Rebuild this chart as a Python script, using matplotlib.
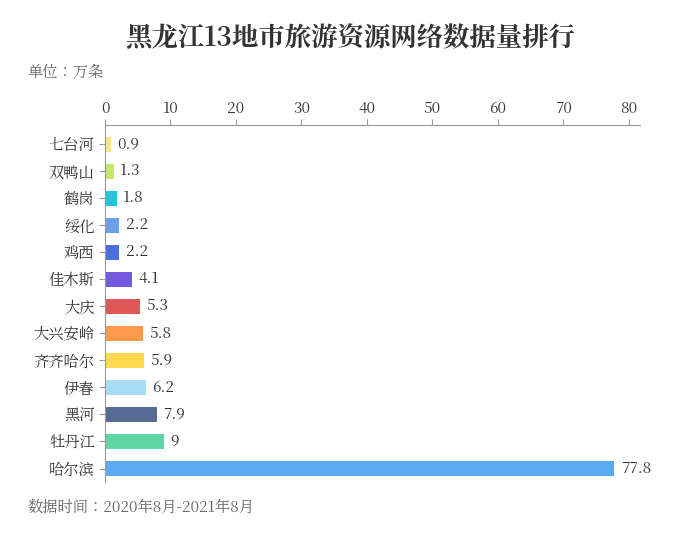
import matplotlib
matplotlib.use("Agg")
import matplotlib.pyplot as plt
from matplotlib import font_manager as fm

fam = None
for p in fm.findSystemFonts():
    if "CJK" in p or "cjk" in p.lower():
        try:
            fm.fontManager.addfont(p)
            name = fm.FontProperties(fname=p).get_name()
            if fam is None or "SC" in name:
                fam = name
        except Exception:
            pass
plt.rcParams["font.family"] = [fam or "Noto Sans CJK SC", "Noto Sans CJK SC", "Noto Sans CJK JP", "DejaVu Sans"]

cities = ["七台河", "双鸭山", "鹤岗", "绥化", "鸡西", "佳木斯", "大庆", "大兴安岭", "齐齐哈尔", "伊春", "黑河", "牡丹江", "哈尔滨"]
values = [0.9, 1.3, 1.8, 2.2, 2.2, 4.1, 5.3, 5.8, 5.9, 6.2, 7.9, 9, 77.8]
labels = ["0.9", "1.3", "1.8", "2.2", "2.2", "4.1", "5.3", "5.8", "5.9", "6.2", "7.9", "9", "77.8"]
colors = ["#fce38a", "#c5e86c", "#26c4d8", "#6d9eeb", "#4a6ee0", "#7459e0", "#e05757", "#ff9a4d",
          "#fcd94e", "#a9ddf6", "#586b94", "#5fd6a4", "#5aabf2"]
xticks = [0, 10, 20, 30, 40, 50, 60, 70, 80]

fig = plt.figure(figsize=(7, 5.49), dpi=100)
ax = fig.add_axes([0.15, 0.122, 0.764, 0.65])
y = list(range(len(cities)))
ax.barh(y, values, color=colors, height=0.55)
for yi, v, l in zip(y, values, labels):
    ax.text(v + 1.0, yi, l, va="center", ha="left", fontsize=11, color="#333333")
ax.set_ylim(len(cities) - 0.5, -0.7)
ax.set_xlim(0, 81.7)
ax.xaxis.tick_top()
ax.set_xticks(xticks)
ax.set_xticklabels([str(t) for t in xticks], fontsize=11, color="#333333")
ax.set_yticks(y)
ax.set_yticklabels(cities, fontsize=11, color="#333333")
for s in ["right", "bottom"]:
    ax.spines[s].set_visible(False)
ax.spines["top"].set_color("#999999")
ax.spines["left"].set_color("#999999")
ax.tick_params(axis="x", length=4, color="#999999", pad=2)
ax.tick_params(axis="y", length=4, color="#999999")

fig.text(0.5, 0.93, "黑龙江13地市旅游资源网络数据量排行", ha="center", va="center",
         fontsize=19, fontweight="bold", color="#333333")
fig.text(0.04, 0.868, "单位：万条", ha="left", va="center", fontsize=11, color="#666666")
fig.text(0.04, 0.075, "数据时间：2020年8月-2021年8月", ha="left", va="center", fontsize=11, color="#666666")
fig.savefig("out.png", dpi=100, facecolor="white")
